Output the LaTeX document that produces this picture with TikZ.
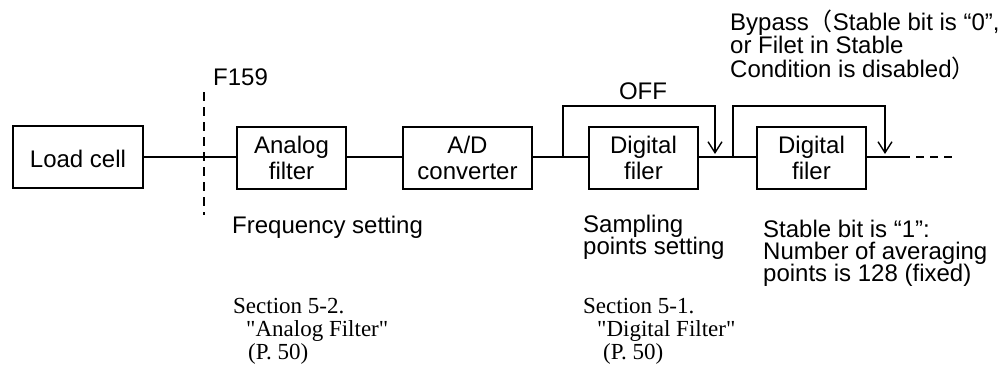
\documentclass[tikz,border=0pt]{standalone}
\usepackage{fontspec}
\setsansfont{Liberation Sans}
\newfontfamily\serifface{Liberation Serif}
\newfontfamily\cjk{Noto Sans CJK JP}
\usetikzlibrary{arrows.meta}
\begin{document}
\begin{tikzpicture}[x=1pt,y=-1pt,
  box/.style={draw, line width=2pt, minimum width=109pt, minimum height=62pt, inner sep=0pt, align=center, font=\sffamily\fontsize{24pt}{26pt}\selectfont},
  wire/.style={line width=2pt},
  lab/.style={anchor=base west, inner sep=0pt, font=\sffamily\fontsize{24pt}{24pt}\selectfont},
  slab/.style={anchor=base west, inner sep=0pt, font=\serifface\fontsize{23pt}{23pt}\selectfont},
  byp/.style={line width=2pt, -{Straight Barb[length=11pt,width=14pt,line width=1.4pt]}}]
\useasboundingbox (0,0) rectangle (999,373);
% boxes
\node[box, minimum width=130pt, text height=22pt] (lc) at (78,156.5) {Load cell};
\node[box] (af) at (291.5,158) {Analog\\filter};
\node[box, minimum width=129pt] (ad) at (467.5,158) {A/D\\converter};
\node[box] (d1) at (643.5,158) {Digital\\filer};
\node[box] (d2) at (811.5,158) {Digital\\filer};
% main line
\coordinate (m0) at (143,156.5);
\draw[wire] (lc.east) -- (af.west |- m0);
\draw[wire] (af.east |- m0) -- (ad.west |- m0);
\draw[wire] (ad.east |- m0) -- (d1.west |- m0);
\draw[wire] (d1.east |- m0) -- (d2.west |- m0);
\coordinate (e1) at (910,156.5);
\coordinate (e2) at (916,156.5);
\coordinate (e3) at (954,156.5);
\draw[wire] (d2.east |- m0) -- (e1);
\draw[wire, dash pattern=on 8pt off 6pt] (e2) -- (e3);
% bypasses
\coordinate (j1) at (563,156.5);
\coordinate (t1) at (715,154);
\draw[byp] (j1) |- (715,106) -- (t1);
\coordinate (j2) at (733,156.5);
\coordinate (t2) at (885,154);
\draw[byp] (j2) |- (885,106) -- (t2);
% F159 dashed line
\coordinate (f1) at (204,92);
\coordinate (f2) at (204,215);
\draw[wire, dash pattern=on 9pt off 6pt] (f1) -- (f2);
\node[lab] (f159) at (213,85) {F159};
\node[lab, anchor=base] (off) at (643,99) {OFF};
% bypass label
\node[lab] (b1) at (730,30) {Bypass{\cjk （}Stable bit is “0”,};
\node[lab] (b2) at (730,53) {or Filet in Stable};
\node[lab] (b3) at (730,77) {Condition is disabled{\cjk ）}};
% lower labels
\node[lab] (fs) at (232,233) {Frequency setting};
\node[lab] (sp1) at (583,232) {Sampling};
\node[lab] (sp2) at (583,254) {points setting};
\node[lab] (st1) at (763,237) {Stable bit is “1”:};
\node[lab] (st2) at (763,259) {Number of averaging};
\node[lab] (st3) at (763,281) {points is 128 (fixed)};
\node[slab] (s21) at (233,313) {Section 5-2.};
\node[slab] (s22) at (246,336) {"Analog Filter"};
\node[slab] (s23) at (248,359) {(P. 50)};
\node[slab] (s11) at (583,313) {Section 5-1.};
\node[slab] (s12) at (597,336) {"Digital Filter"};
\node[slab] (s13) at (603,359) {(P. 50)};
\end{tikzpicture}
\end{document}
